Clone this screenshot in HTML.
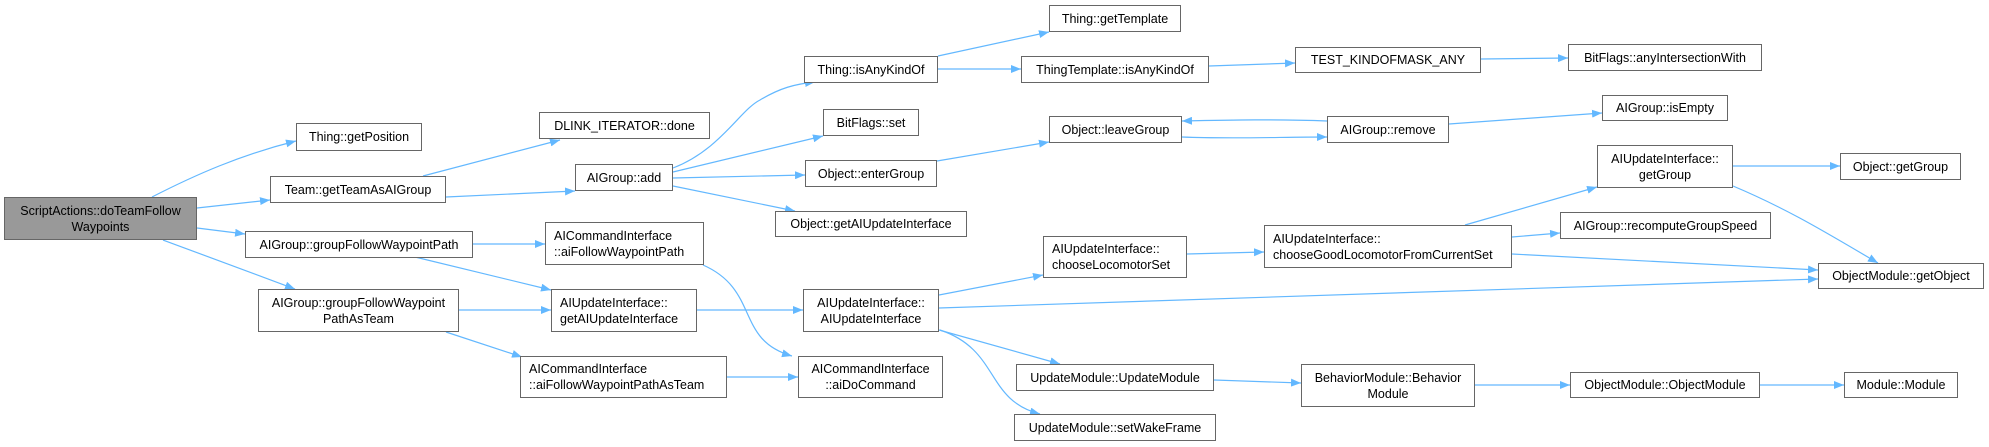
<!DOCTYPE html>
<html><head><meta charset="utf-8"><style>
html,body{margin:0;padding:0;background:#fff;}
#c{position:relative;width:1989px;height:447px;overflow:hidden;font-family:"Liberation Sans",Arial,sans-serif;}
.n{position:absolute;box-sizing:border-box;border:1px solid #666;background:#fff;font-size:12.5px;color:#000;display:flex;align-items:center;justify-content:center;text-align:center;line-height:16px;white-space:nowrap;}
.l{text-align:left;justify-content:flex-start;padding-left:8px;}
svg{position:absolute;left:0;top:0;}
</style></head><body><div id="c">
<svg width="1989" height="447" viewBox="0 0 1989 447">
<defs><marker id="a" markerWidth="10" markerHeight="8" refX="10" refY="4" orient="auto" markerUnits="userSpaceOnUse"><path d="M0,0 L10,4 L0,8 z" fill="#63b8ff"/></marker></defs>
<g fill="none" stroke="#63b8ff" stroke-width="1.2" marker-end="url(#a)">
<path d="M152,197 C195,175 240,155 296,141"/>
<path d="M197,208 L270,200"/>
<path d="M197,228 L245,234"/>
<path d="M163,240 L295,289"/>
<path d="M423,176 L560,140"/>
<path d="M446,197 L575,191"/>
<path d="M673,168 C720,150 740,110 760,100 C780,88 795,84 815,82"/>
<path d="M673,172 L823,136"/>
<path d="M673,178 L805,175"/>
<path d="M673,186 L795,211"/>
<path d="M473,244 L545,244"/>
<path d="M415,257 L551,290"/>
<path d="M459,310 L551,310"/>
<path d="M446,332 L522,357"/>
<path d="M703,265 C760,290 735,340 792,356"/>
<path d="M727,377 L798,377"/>
<path d="M697,310 L803,310"/>
<path d="M938,56 L1049,32"/>
<path d="M938,69 L1021,69"/>
<path d="M1209,66 L1295,63"/>
<path d="M1481,59 L1568,58"/>
<path d="M937,161 L1049,142"/>
<path d="M1182,137 C1230,139 1280,137 1327,137"/>
<path d="M1327,121 C1280,119 1230,120 1182,121"/>
<path d="M1449,124 L1602,113"/>
<path d="M939,295 L1043,275"/>
<path d="M939,308 L1818,279"/>
<path d="M939,330 L1060,364"/>
<path d="M940,330 C1000,350 985,400 1040,414"/>
<path d="M1187,254 L1264,252"/>
<path d="M1465,225 L1597,187"/>
<path d="M1512,237 L1560,233"/>
<path d="M1512,254 L1818,270"/>
<path d="M1733,166 L1840,166"/>
<path d="M1733,186 C1790,210 1830,235 1878,263"/>
<path d="M1214,380 L1301,383"/>
<path d="M1475,385 L1570,385"/>
<path d="M1760,385 L1844,385"/>
</g></svg>
<div class="n" style="left:4px;top:197px;width:193px;height:43px;background:#999;">ScriptActions::doTeamFollow<br>Waypoints</div>
<div class="n" style="left:296px;top:123px;width:126px;height:28px;">Thing::getPosition</div>
<div class="n" style="left:270px;top:176px;width:176px;height:27px;">Team::getTeamAsAIGroup</div>
<div class="n" style="left:245px;top:231px;width:228px;height:27px;">AIGroup::groupFollowWaypointPath</div>
<div class="n" style="left:258px;top:289px;width:201px;height:43px;">AIGroup::groupFollowWaypoint<br>PathAsTeam</div>
<div class="n" style="left:539px;top:112px;width:171px;height:27px;">DLINK_ITERATOR::done</div>
<div class="n" style="left:575px;top:164px;width:98px;height:27px;">AIGroup::add</div>
<div class="n l" style="left:545px;top:222px;width:159px;height:43px;">AICommandInterface<br>::aiFollowWaypointPath</div>
<div class="n l" style="left:551px;top:289px;width:146px;height:43px;">AIUpdateInterface::<br>getAIUpdateInterface</div>
<div class="n l" style="left:520px;top:356px;width:207px;height:42px;">AICommandInterface<br>::aiFollowWaypointPathAsTeam</div>
<div class="n" style="left:804px;top:56px;width:134px;height:27px;">Thing::isAnyKindOf</div>
<div class="n" style="left:823px;top:109px;width:96px;height:27px;">BitFlags::set</div>
<div class="n" style="left:805px;top:160px;width:132px;height:27px;">Object::enterGroup</div>
<div class="n" style="left:775px;top:211px;width:192px;height:26px;">Object::getAIUpdateInterface</div>
<div class="n" style="left:803px;top:289px;width:136px;height:43px;">AIUpdateInterface::<br>AIUpdateInterface</div>
<div class="n" style="left:798px;top:356px;width:145px;height:42px;">AICommandInterface<br>::aiDoCommand</div>
<div class="n" style="left:1049px;top:5px;width:132px;height:27px;">Thing::getTemplate</div>
<div class="n" style="left:1021px;top:56px;width:188px;height:27px;">ThingTemplate::isAnyKindOf</div>
<div class="n" style="left:1049px;top:116px;width:133px;height:27px;">Object::leaveGroup</div>
<div class="n l" style="left:1043px;top:236px;width:144px;height:42px;">AIUpdateInterface::<br>chooseLocomotorSet</div>
<div class="n" style="left:1016px;top:364px;width:198px;height:27px;">UpdateModule::UpdateModule</div>
<div class="n" style="left:1014px;top:414px;width:202px;height:27px;">UpdateModule::setWakeFrame</div>
<div class="n" style="left:1295px;top:47px;width:186px;height:26px;">TEST_KINDOFMASK_ANY</div>
<div class="n" style="left:1327px;top:116px;width:122px;height:27px;">AIGroup::remove</div>
<div class="n l" style="left:1264px;top:225px;width:248px;height:43px;">AIUpdateInterface::<br>chooseGoodLocomotorFromCurrentSet</div>
<div class="n" style="left:1301px;top:364px;width:174px;height:43px;">BehaviorModule::Behavior<br>Module</div>
<div class="n" style="left:1568px;top:44px;width:194px;height:27px;">BitFlags::anyIntersectionWith</div>
<div class="n" style="left:1602px;top:95px;width:126px;height:26px;">AIGroup::isEmpty</div>
<div class="n" style="left:1597px;top:145px;width:136px;height:43px;">AIUpdateInterface::<br>getGroup</div>
<div class="n" style="left:1560px;top:212px;width:211px;height:27px;">AIGroup::recomputeGroupSpeed</div>
<div class="n" style="left:1840px;top:153px;width:121px;height:27px;">Object::getGroup</div>
<div class="n" style="left:1818px;top:263px;width:166px;height:26px;">ObjectModule::getObject</div>
<div class="n" style="left:1570px;top:372px;width:190px;height:26px;">ObjectModule::ObjectModule</div>
<div class="n" style="left:1844px;top:372px;width:114px;height:26px;">Module::Module</div>
</div></body></html>
